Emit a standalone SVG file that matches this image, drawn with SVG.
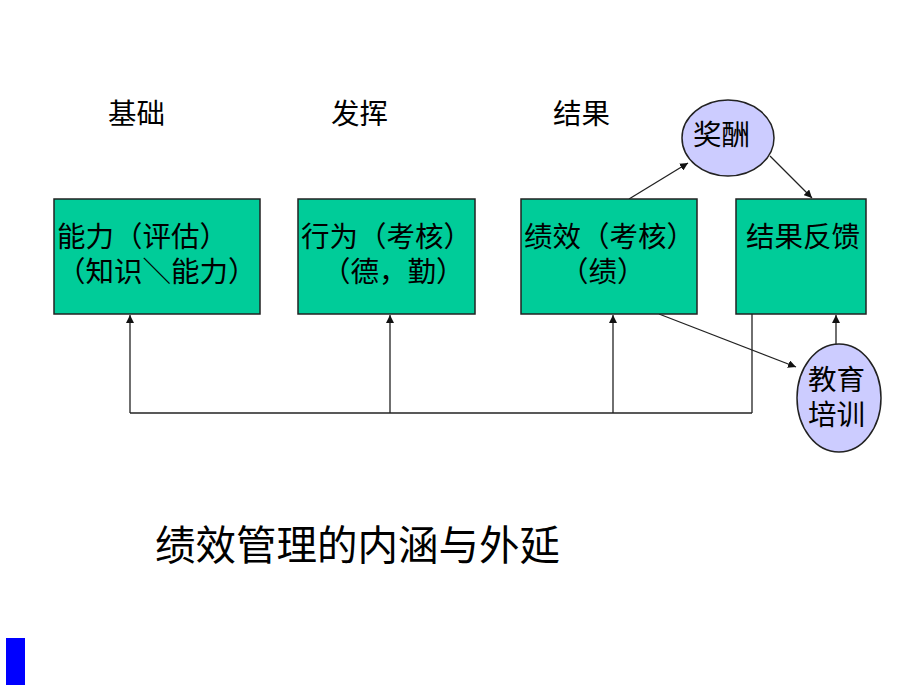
<svg xmlns="http://www.w3.org/2000/svg" width="920" height="690" viewBox="0 0 920 690">
<style>
text{font-family:"Noto Sans CJK SC","Liberation Sans",sans-serif;fill:#000}
.t{font-size:28.5px}
.box{fill:#00cc99;stroke:#222;stroke-width:1.5}
.ell{fill:#ccccff;stroke:#222;stroke-width:1.5}
.ln{stroke:#222;stroke-width:1.3;fill:none}
</style>
<defs>
<marker id="ah" viewBox="0 0 10 10" refX="10" refY="5" markerWidth="8" markerHeight="8" markerUnits="userSpaceOnUse" orient="auto">
<path d="M0,0 L10,5 L0,10 z" fill="#111"/>
</marker>
</defs>
<rect width="920" height="690" fill="#fff"/>
<g id="labels">
<text class="t" x="108" y="124">基础</text>
<text class="t" x="331" y="124">发挥</text>
<text class="t" x="553" y="124">结果</text>
</g>
<g id="connectors">
<polyline class="ln" points="130,413 752,413"/>
<line class="ln" x1="130" y1="413" x2="130" y2="315" marker-end="url(#ah)"/>
<line class="ln" x1="390" y1="413" x2="390" y2="315" marker-end="url(#ah)"/>
<line class="ln" x1="613" y1="413" x2="613" y2="315" marker-end="url(#ah)"/>
<line class="ln" x1="752" y1="413" x2="752" y2="314"/>
<line class="ln" x1="629" y1="199" x2="688" y2="163" marker-end="url(#ah)"/>
<line class="ln" x1="770" y1="156" x2="812" y2="198" marker-end="url(#ah)"/>
<line class="ln" x1="659" y1="314" x2="796" y2="367" marker-end="url(#ah)"/>
<line class="ln" x1="836" y1="344" x2="836" y2="315" marker-end="url(#ah)"/>
</g>
<g id="node-ability">
<rect class="box" x="54" y="199" width="206" height="115"/>
<text class="t" x="57" y="247">能力（评估）</text>
<text class="t" x="57" y="282">（知识＼能力）</text>
</g>
<g id="node-behavior">
<rect class="box" x="298" y="199" width="177" height="115"/>
<text class="t" x="301" y="247">行为（考核）</text>
<text class="t" x="322" y="282">（德，勤）</text>
</g>
<g id="node-performance">
<rect class="box" x="521" y="199" width="176" height="115"/>
<text class="t" x="524" y="247">绩效（考核）</text>
<text class="t" x="560" y="282">（绩）</text>
</g>
<g id="node-feedback">
<rect class="box" x="736" y="199" width="130" height="115"/>
<text class="t" x="746" y="247">结果反馈</text>
</g>
<g id="node-reward">
<ellipse class="ell" cx="728" cy="138" rx="46" ry="38"/>
<text class="t" x="693" y="145">奖酬</text>
</g>
<g id="node-training">
<ellipse class="ell" cx="839" cy="398" rx="42" ry="54"/>
<text class="t" x="808" y="390">教育</text>
<text class="t" x="808" y="425">培训</text>
</g>
<g id="title">
<text x="155" y="560" style="font-size:40.5px">绩效管理的内涵与外延</text>
</g>
<rect x="6" y="638" width="19" height="47" fill="#0000ff"/>
</svg>
